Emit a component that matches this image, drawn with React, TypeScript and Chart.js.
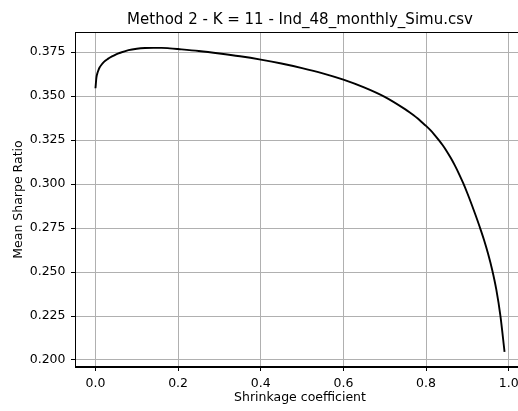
import React, { useEffect, useRef } from "react";
import { Chart, registerables } from "chart.js";

Chart.register(...registerables);

const shrinkage = [
  0.0, 0.0025, 0.005, 0.0075, 0.01, 0.015, 0.02, 0.03, 0.04, 0.05, 0.06, 0.08, 0.1,
  0.12, 0.14, 0.16, 0.18, 0.2, 0.25, 0.3, 0.35, 0.4, 0.45, 0.5, 0.55, 0.6, 0.65,
  0.7, 0.75, 0.76, 0.77, 0.78, 0.79, 0.8, 0.81, 0.82, 0.83, 0.84, 0.85, 0.86, 0.87,
  0.88, 0.89, 0.9, 0.91, 0.92, 0.93, 0.94, 0.95, 0.96, 0.97, 0.98, 0.99,
];
const meanSharpe = [
  0.3545, 0.3608, 0.3633, 0.365, 0.3663, 0.368, 0.3694, 0.3712, 0.3726, 0.3738,
  0.3747, 0.3762, 0.377, 0.3774, 0.3775, 0.3775, 0.3772, 0.3768, 0.3757, 0.3743,
  0.3727, 0.3708, 0.3686, 0.366, 0.363, 0.3594, 0.355, 0.3496, 0.3425, 0.3409,
  0.3392, 0.3373, 0.3352, 0.3331, 0.3308, 0.3282, 0.3253, 0.3222, 0.3187, 0.3148,
  0.3105, 0.3057, 0.3005, 0.2948, 0.2887, 0.2823, 0.2756, 0.2685, 0.2605, 0.2513,
  0.2401, 0.2251, 0.2046,
];
const xTicks = [0.0, 0.2, 0.4, 0.6, 0.8, 1.0];
const yTicks = [0.2, 0.225, 0.25, 0.275, 0.3, 0.325, 0.35, 0.375];
const titleText = "Method 2 - K = 11 - Ind_48_monthly_Simu.csv";
const xLabel = "Shrinkage coefficient";
const yLabel = "Mean Sharpe Ratio";

const FONT = "'DejaVu Sans', sans-serif";

const framePlugin = {
  id: "frame",
  afterDraw(chart: any) {
    const { ctx, chartArea } = chart;
    ctx.save();
    ctx.strokeStyle = "#000";
    ctx.lineWidth = 1;
    const l = Math.round(chartArea.left) + 0.5;
    const t = Math.round(chartArea.top) + 0.5;
    const r = Math.round(chartArea.right) - 0.5;
    const b = Math.round(chartArea.bottom) - 0.5;
    ctx.strokeRect(l, t, r - l, b - t);
    ctx.restore();
  },
};

export default function App() {
  const ref = useRef<HTMLCanvasElement | null>(null);
  useEffect(() => {
    if (!ref.current) return;
    const chart = new Chart(ref.current, {
      type: "line",
      data: {
        datasets: [
          {
            data: shrinkage.map((x, i) => ({ x, y: meanSharpe[i] })),
            borderColor: "#000",
            borderWidth: 1.9,
            pointRadius: 0,
            fill: false,
            cubicInterpolationMode: "monotone",
          },
        ],
      },
      options: {
        responsive: false,
        animation: false,
        devicePixelRatio: 1,
        layout: { padding: { left: 0, right: 75, top: 0, bottom: 0 } },
        plugins: {
          legend: { display: false },
          tooltip: { enabled: false },
          title: {
            display: true,
            fullSize: false,
            text: titleText,
            color: "#000",
            font: { family: FONT, size: 15, weight: "normal" },
            padding: { top: 11, bottom: 3 },
          },
        },
        scales: {
          x: {
            type: "linear",
            min: -0.0495,
            max: 1.0395,
            afterBuildTicks: (s: any) => {
              s.ticks = xTicks.map((v) => ({ value: v }));
            },
            afterFit: (s: any) => {
              s.height = 44;
            },
            ticks: {
              color: "#000",
              font: { family: FONT, size: 12.5 },
              padding: 5,
              maxRotation: 0,
              callback: (v: any) => Number(v).toFixed(1),
            },
            grid: {
              color: "#b0b0b0",
              lineWidth: 1,
              tickLength: 4,
              tickColor: "#000",
              tickWidth: 1,
            },
            border: { display: true, color: "#000", width: 1 },
            title: {
              display: true,
              text: xLabel,
              color: "#000",
              font: { family: FONT, size: 12.5 },
              padding: { top: 0, bottom: 5.5 },
            },
          },
          y: {
            type: "linear",
            min: 0.196,
            max: 0.3865,
            afterBuildTicks: (s: any) => {
              s.ticks = yTicks.map((v) => ({ value: v }));
            },
            afterFit: (s: any) => {
              s.width = 75;
            },
            ticks: {
              color: "#000",
              font: { family: FONT, size: 12.5 },
              padding: 5.5,
              callback: (v: any) => Number(v).toFixed(3),
            },
            grid: {
              color: "#b0b0b0",
              lineWidth: 1,
              tickLength: 4,
              tickColor: "#000",
              tickWidth: 1,
            },
            border: { display: true, color: "#000", width: 1 },
            title: {
              display: true,
              text: yLabel,
              color: "#000",
              font: { family: FONT, size: 12.5 },
              padding: { top: 11.5, bottom: 0 },
            },
          },
        },
      },
      plugins: [framePlugin],
    } as any);
    return () => chart.destroy();
  }, []);
  return (
    <div
      style={{
        position: "absolute",
        left: 0,
        top: 0,
        width: 518,
        height: 411,
        overflow: "hidden",
        background: "#fff",
      }}
    >
      <canvas ref={ref} width={600} height={411} style={{ display: "block" }} />
    </div>
  );
}
